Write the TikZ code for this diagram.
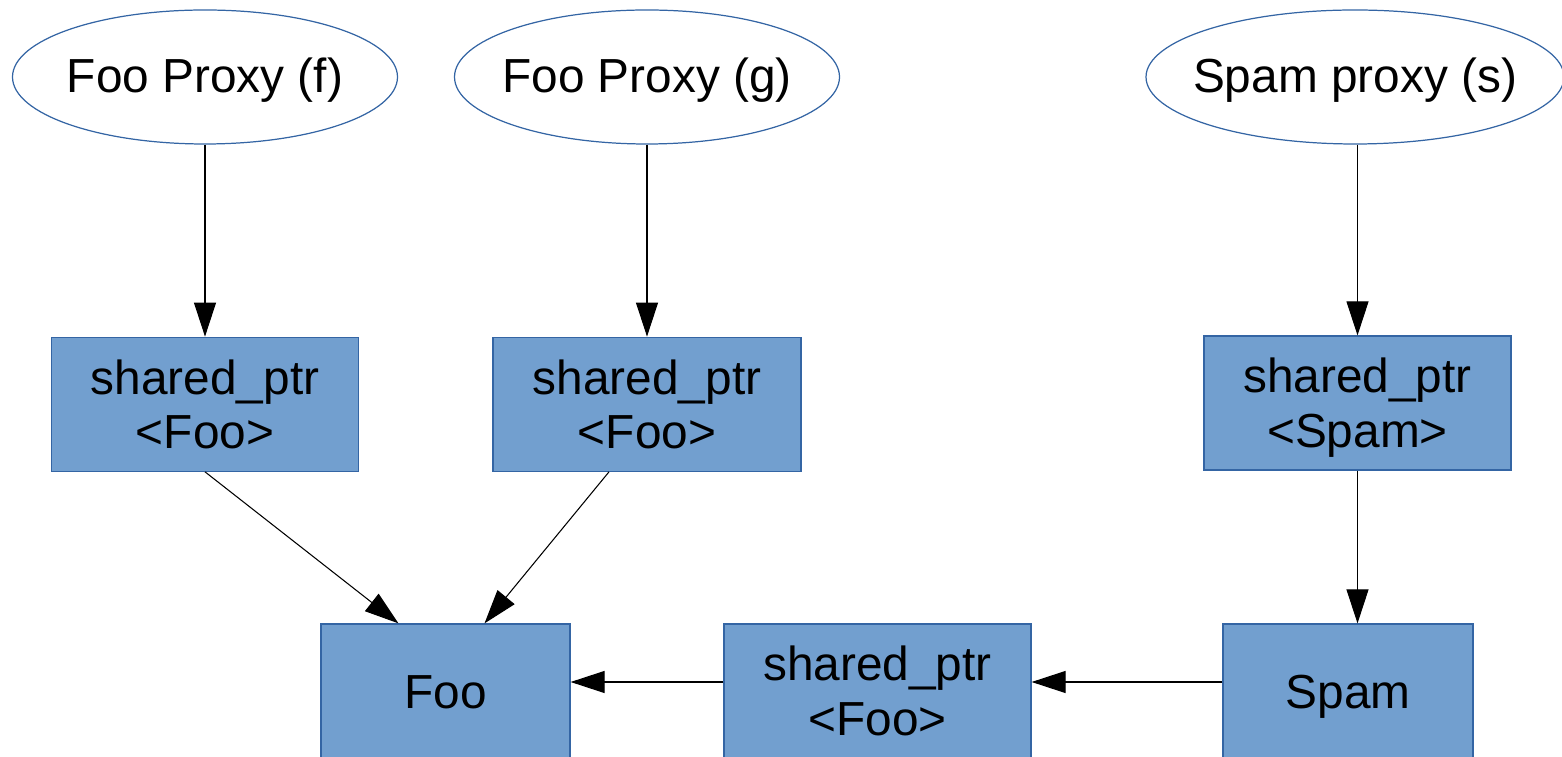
\documentclass[tikz,border=0pt]{standalone}
\usepackage{fontspec}
\setmainfont{Liberation Sans}
\usepackage{xcolor}
\usetikzlibrary{arrows.meta,shapes.geometric,positioning,calc}

\definecolor{boxfill}{HTML}{729FCF}
\definecolor{boxline}{HTML}{3465A4}

\begin{document}
\begin{tikzpicture}[
    proxy/.style={ellipse,draw=boxline,line width=0.35pt,minimum width=3.85cm,minimum height=1.34cm,inner xsep=-6mm,inner ysep=0pt,font=\fontsize{13.6}{15.4}\selectfont,align=center,
        execute at begin node={\rule{0pt}{14pt}},execute at end node={\rule[-4.9pt]{0pt}{0pt}}},
    basebox/.style={rectangle,draw=boxline,line width=0.35pt,fill=boxfill,minimum width=3.07cm,minimum height=1.34cm,inner sep=0pt,font=\fontsize{13.6}{15.4}\selectfont,align=center},
    ptrbox/.style={basebox,text depth=0.2pt},
    objbox/.style={basebox,execute at begin node={\rule{0pt}{14pt}},execute at end node={\rule[-4.3pt]{0pt}{0pt}}},
    arrow/.style={-{Triangle[length=3.4mm,width=2.2mm]},line width=0.3pt,black}
]
\useasboundingbox (0,0) rectangle (15.62,-7.57);

\node[proxy] (pf) at (2.05,-0.77) {Foo Proxy (f)};
\node[proxy] (pg) at (6.47,-0.77) {Foo Proxy (g)};
\node[proxy,minimum width=4.18cm] (ps) at (13.55,-0.77) {Spam proxy (s)};

\node[ptrbox,below=1.92cm of pf] (spf) {shared\_ptr\\<Foo>};
\node[ptrbox,minimum width=3.08cm,below=1.92cm of pg] (spg) {shared\_ptr\\<Foo>};
\node[ptrbox] (sps) at (13.575,-4.03) {shared\_ptr\\<Spam>};

\node[objbox,minimum width=2.49cm] (foo) at (4.455,-6.91) {Foo};
\node[ptrbox] (spm) at (8.775,-6.91) {shared\_ptr\\<Foo>};
\node[objbox,minimum width=2.5cm] (spam) at (13.48,-6.91) {Spam};

\draw[arrow] (pf) -- (spf);
\draw[arrow] (pg) -- (spg);
\draw[arrow] (ps.south -| sps.north) -- (sps.north);
\draw[arrow] (spf.south) -- ($(foo.north)+(-0.47,0)$);
\draw[arrow] ($(spg.south)+(-0.38,0)$) -- ($(foo.north)+(0.39,0)$);
\draw[arrow] (sps.south) -- (sps.south |- spam.north);
\draw[arrow] ($(spam.west)+(0,0.09)$) -- ($(spm.east)+(0,0.09)$);
\draw[arrow] ($(spm.west)+(0,0.09)$) -- ($(foo.east)+(0,0.09)$);
\end{tikzpicture}
\end{document}
